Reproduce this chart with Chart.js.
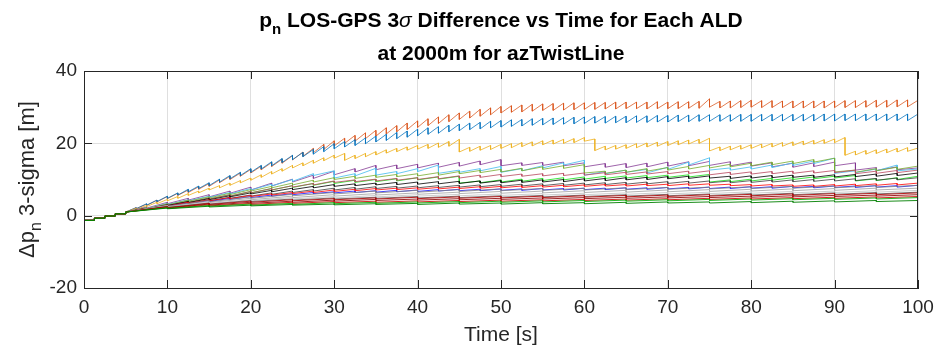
<!DOCTYPE html>
<html>
<head>
<meta charset="utf-8">
<script src="https://cdn.jsdelivr.net/npm/chart.js@4.4.1/dist/chart.umd.min.js"></script>
<style>
html,body{margin:0;padding:0;background:#fff;}
#wrap{width:935px;height:349px;}
</style>
</head>
<body>
<div id="wrap"><canvas id="c" width="935" height="349"></canvas></div>
<script>
// ---------- DATA ----------
// Tooth boundary times [s]; at each time a series ends its rise at "Hi" and restarts at "Lo"
const timeFine = [0,1.25,2.5,3.75,5,6.25,7.5,8.75,10,11.25,12.5,13.75,15,16.25,17.5,18.75,20,21.25,22.5,23.75,25,26.25,27.5,28.75,30,31.25,32.5,33.75,35,36.25,37.5,38.75,40,41.25,42.5,43.75,45,46.25,47.5,48.75,50,51.25,52.5,53.75,55,56.25,57.5,58.75,60,61.25,62.5,63.75,65,66.25,67.5,68.75,70,71.25,72.5,73.75,75,76.25,77.5,78.75,80,81.25,82.5,83.75,85,86.25,87.5,88.75,90,91.25,92.5,93.75,95,96.25,97.5,98.75,100];
const timeMid = [0,1.25,2.5,3.75,5,7.5,10,12.5,15,17.5,20,22.5,25,27.5,30,32.5,35,37.5,40,42.5,45,47.5,50,52.5,55,57.5,60,62.5,65,67.5,70,72.5,75,77.5,80,82.5,85,87.5,90,92.5,95,97.5,100];
const timeLow = [0,1.25,2.5,3.75,5,10,15,20,25,30,35,40,45,50,55,60,65,70,75,80,85,90,95,100];

// common start-up staircase (0-5 s)
const stairHi = [-1.3,-1.3,-0.7,-0.1,0.5];
const stairLo = [-1.3,-0.7,-0.1,0.5,1.0];

const orangeHi = [-1.3,-1.3,-0.7,-0.1,0.5, 2.2,3.2,4.3,5.3, 6.2,7.1,8.0,8.9, 9.9,10.9,11.8,12.8, 13.7,14.7,15.6,16.6, 17.6,18.6,19.7,20.7, 21.4,22.2,22.9,23.6, 24.3,24.9,25.6,26.2, 26.8,27.3,27.9,28.4, 28.9,29.4,29.8,30.2, 30.4,30.6,30.8,30.9, 31.0,31.1,31.2,31.2, 31.3,31.3,31.4,31.4, 31.4,31.4,31.5,31.4, 31.5,31.5,31.6,32.3, 31.6,31.7,31.8,31.9, 31.8,31.8,31.7,31.7, 31.7,31.7,31.7,31.7, 31.8,31.8,31.8,31.9, 31.9,32.0,32.0,31.9];
const orangeLo = [-1.3,-0.7,-0.1,0.5,1.0, 1.9,2.8,3.8,4.7, 5.6,6.4,7.3,8.1, 9.1,10.0,10.9,11.8, 12.7,13.6,14.5,15.4, 16.4,17.4,18.3,19.3, 20.0,20.6,21.3,22.0, 22.6,23.2,23.8,24.4, 24.9,25.5,26.0,26.6, 27.0,27.5,27.9,28.4, 28.6,28.7,28.9,29.1, 29.1,29.2,29.3,29.4, 29.4,29.5,29.5,29.6, 29.6,29.5,29.6,29.6, 29.6,29.7,29.7,30.0, 29.8,29.8,29.9,30.0, 29.9,29.9,29.9,29.8, 29.8,29.8,29.8,29.9, 29.9,29.9,30.0,30.0, 30.0,30.1,30.1,31.9];

const blueHi = [-1.3,-1.3,-0.7,-0.1,0.5, 2.2,3.3,4.3,5.4, 6.3,7.3,8.2,9.1, 10.1,11.1,12.0,13.0, 13.9,14.9,15.8,16.7, 17.5,18.3,19.1,19.9, 20.5,21.0,21.5,22.0, 22.5,23.0,23.4,23.9, 24.3,24.6,25.0,25.3, 25.6,25.8,26.1,26.3, 26.5,26.6,26.8,26.9, 27.0,27.1,27.2,27.3, 27.4,27.4,27.5,27.5, 27.6,27.6,27.7,27.7, 27.8,27.8,27.9,27.9, 27.9,27.9,28.0,28.0, 28.0,28.0,28.0,28.0, 28.0,28.0,28.1,28.1, 28.1,28.1,28.1,28.1, 28.1,28.1,28.1,28.1];
const blueLo = [-1.3,-0.7,-0.1,0.5,1.0, 1.9,2.9,3.9,4.8, 5.7,6.6,7.5,8.3, 9.3,10.2,11.1,12.0, 12.9,13.8,14.7,15.5, 16.3,17.0,17.7,18.5, 19.0,19.4,19.9,20.4, 20.8,21.3,21.7,22.1, 22.5,22.8,23.2,23.5, 23.8,24.0,24.3,24.5, 24.7,24.8,25.0,25.1, 25.2,25.3,25.4,25.5, 25.6,25.6,25.7,25.7, 25.8,25.8,25.9,25.9, 26.0,26.0,26.1,26.1, 26.1,26.1,26.1,26.1, 26.2,26.2,26.2,26.2, 26.2,26.2,26.2,26.2, 26.3,26.3,26.3,26.3, 26.3,26.3,26.3,28.1];

const yellowHi = [-1.3,-1.3,-0.7,-0.1,0.5, 2.0,2.8,3.7,4.5, 5.3,6.1,6.8,7.6, 8.3,9.0,9.7,10.4, 11.3,12.2,13.0,13.9, 14.6,15.3,16.0,16.7, 17.2,16.7,17.2,17.7, 18.2,18.6,19.0,19.4, 19.7,20.1,20.5,21.1, 18.9,19.2,19.4,19.7, 19.9,20.2,20.4,20.7, 20.9,21.1,21.3,21.6, 21.2,19.2,19.4,19.6, 19.9,20.1,20.3,20.5, 20.7,20.9,21.1,21.4, 19.0,19.2,19.4,19.6, 19.8,20.0,20.2,20.4, 20.6,20.8,21.0,21.2, 21.6,17.8,18.0,18.2, 18.4,18.6,18.8,18.7];
const yellowLo = [-1.3,-0.7,-0.1,0.5,1.0, 1.7,2.5,3.3,4.1, 4.8,5.6,6.3,7.1, 7.7,8.4,9.1,9.8, 10.6,11.5,12.3,13.2, 13.8,14.5,15.2,15.9, 15.3,15.8,16.3,16.8, 17.3,17.7,18.1,18.4, 18.6,18.9,19.2,17.6, 17.8,18.1,18.3,18.6, 18.8,19.1,19.3,19.6, 19.8,20.0,20.2,20.6, 18.0,18.2,18.4,18.6, 18.8,19.0,19.2,19.4, 19.6,19.8,20.0,17.9, 18.0,18.2,18.4,18.6, 18.8,19.0,19.2,19.4, 19.6,19.8,20.0,20.2, 16.7,16.8,17.0,17.2, 17.4,17.6,17.8,18.7];

// mid series (2.5 s teeth), values after the staircase
const purpleHi = [2.4,3.7, 4.8,5.8,6.8,7.9, 9.0,10.1,11.2,12.3, 13.0,13.9,14.0,14.2, 14.5,14.7,15.1,15.5, 14.6,14.7,14.8,14.6, 14.4,14.4,14.5,14.8, 14.9,15.0,14.9,14.8, 14.6,14.5,14.6,14.8, 14.6,13.3,13.5,13.2];
const purpleLo = [2.1,3.3, 4.3,5.2,6.2,7.1, 8.2,9.3,10.3,11.3, 12.1,12.7,13.0,13.2, 13.4,13.7,14.1,13.8, 13.9,13.9,13.8,13.5, 13.4,13.3,13.5,13.7, 13.8,13.9,13.8,13.7, 13.5,13.4,13.6,13.8, 12.6,12.5,12.7,13.2];
const lightBlueHi = [2.2,3.4, 4.4,5.4,6.4,7.5, 8.7,10.0,11.6,12.4, 11.6,13.1,12.2,13.0, 14.0,12.6,13.0,13.6, 13.0,13.8,14.6,15.3, 12.2,12.6,12.8,13.4, 14.8,16.0,13.2,13.5, 14.0,14.6,15.1,15.9, 12.4,12.9,14.0,12.9];
const lightBlueLo = [1.9,3.1, 4.1,5.1,6.0,7.1, 8.2,9.5,11.1,10.4, 11.0,11.2,11.6,12.2, 11.7,12.0,12.4,12.0, 12.4,13.2,14.0,11.2, 11.6,12.0,11.8,12.8, 14.0,12.6,12.6,12.9, 13.3,13.9,14.4,11.7, 11.9,12.4,12.4,12.9];
const oliveHi = [2.2,3.3, 4.3,5.2,6.2,7.2, 8.1,9.0,9.8,10.5, 10.9,11.2,11.4,11.6, 11.9,12.2,12.5,12.8, 13.1,13.5,13.8,14.1, 12.3,12.6,13.0,13.3, 13.6,13.9,14.2,14.5, 14.8,15.1,15.5,15.9, 12.6,13.0,13.4,13.7];
const oliveLo = [1.9,3.0, 4.0,4.9,5.8,6.8, 7.7,8.5,9.3,10.0, 10.3,10.6,10.8,11.0, 11.2,11.6,11.9,12.1, 12.4,12.8,13.1,11.8, 11.7,12.0,12.3,12.6, 12.9,13.2,13.5,13.8, 14.1,14.4,14.8,12.1, 12.0,12.4,12.8,13.7];
const limeHi = [2.1,3.1, 4.0,4.9,5.8,6.7, 7.5,8.3,8.9,9.5, 9.8,10.0,10.2,10.5, 10.7,10.9,9.6,9.9, 10.1,10.3,10.5,10.7, 10.9,11.0,11.1,11.2, 11.3,11.4,9.9,10.1, 10.3,10.5,10.7,10.9, 11.1,10.2,10.5,10.9];
const limeLo = [1.8,2.8, 3.7,4.6,5.4,6.3, 7.1,7.8,8.4,8.9, 9.2,9.4,9.6,9.9, 10.1,9.0,9.1,9.3, 9.5,9.7,9.9,10.1, 10.3,10.4,10.5,10.6, 10.7,9.3,9.4,9.6, 9.8,10.0,10.2,10.4, 9.6,9.7,10.0,10.9];
const pinkHi = [2.1,3.1, 4.0,4.9,5.8,6.7, 7.5,8.3,8.9,9.6, 9.9,10.1,10.3,10.5, 10.8,11.0,11.2,11.4, 11.5,11.6,11.7,11.8, 11.9,12.0,12.1,12.2, 12.3,12.4,12.0,12.1, 12.2,12.3,12.4,12.5, 12.6,12.3,12.5,12.6];
const pinkLo = [1.8,2.8, 3.7,4.6,5.4,6.3, 7.1,7.9,8.5,9.2, 9.4,9.6,9.8,10.0, 10.2,10.4,10.6,10.8, 10.9,11.0,11.1,11.2, 11.3,11.4,11.5,11.6, 11.7,11.3,11.4,11.5, 11.6,11.7,11.8,11.9, 11.6,11.7,11.9,12.6];
const black1Hi = [2.0,3.0, 3.9,4.7,5.5,6.3, 7.0,7.6,8.1,8.6, 8.8,9.0,9.2,9.3, 9.4,9.5,9.6,9.7, 9.8,9.9,10.0,10.2, 10.3,10.5,10.6,10.8, 10.9,11.0,10.9,11.0, 11.1,11.2,11.2,11.3, 11.4,11.5,11.7,11.8];
const black1Lo = [1.8,2.8, 3.6,4.4,5.2,6.0, 6.6,7.2,7.7,8.1, 8.3,8.5,8.6,8.7, 8.8,8.9,9.0,9.1, 9.2,9.3,9.4,9.6, 9.7,9.9,10.0,10.2, 10.3,10.4,10.3,10.4, 10.5,10.6,10.6,10.7, 10.8,10.9,11.1,11.8];
const black2Hi = [2.0,2.9, 3.7,4.4,5.1,5.7, 6.3,6.8,7.2,7.6, 7.8,8.0,8.1,8.2, 8.3,8.4,8.5,8.6, 8.7,8.8,8.9,9.0, 9.1,9.2,9.3,9.4, 9.5,9.6,9.6,9.7, 9.8,9.9,10.0,10.1, 10.2,10.3,10.4,10.5];
const black2Lo = [1.7,2.7, 3.4,4.1,4.8,5.4, 5.9,6.4,6.8,7.1, 7.3,7.5,7.6,7.7, 7.8,7.9,8.0,8.1, 8.2,8.3,8.4,8.5, 8.6,8.7,8.8,8.9, 9.0,9.1,9.1,9.2, 9.3,9.4,9.5,9.6, 9.7,9.8,9.9,10.5];
const pureBlueHi = [1.9,2.8, 3.5,4.2,4.8,5.3, 5.7,6.1,6.4,6.6, 6.8,6.9,7.0,7.1, 7.2,7.3,7.3,7.4, 7.4,7.5,7.5,7.6, 7.6,7.7,7.7,7.8, 7.8,7.9,7.9,8.0, 8.0,8.1,8.1,8.2, 8.2,8.3,8.3,8.4];
const pureBlueLo = [1.7,2.6, 3.3,3.9,4.5,5.0, 5.4,5.8,6.1,6.3, 6.4,6.5,6.6,6.7, 6.8,6.9,6.9,7.0, 7.0,7.1,7.1,7.2, 7.2,7.3,7.3,7.4, 7.4,7.5,7.5,7.6, 7.6,7.7,7.7,7.8, 7.8,7.9,7.9,8.4];
const redHi = [2.0,2.9, 3.7,4.4,5.0,5.6, 6.0,6.4,6.8,7.1, 7.3,7.5,7.6,7.7, 7.8,7.9,8.0,8.1, 8.2,8.3,8.4,8.5, 8.6,8.6,8.7,8.7, 8.8,8.8,8.7,8.6, 8.6,8.5,8.5,8.6, 8.7,8.8,8.9,9.0];
const redLo = [1.7,2.6, 3.4,4.1,4.7,5.3, 5.7,6.1,6.4,6.7, 6.9,7.1,7.2,7.3, 7.4,7.5,7.6,7.7, 7.8,7.9,8.0,8.1, 8.2,8.2,8.3,8.3, 8.4,8.4,8.3,8.2, 8.2,8.1,8.1,8.2, 8.3,8.4,8.5,9.0];

// low cluster (5 s teeth), values after the staircase
const grey1Hi = [2.9,4.2,5.2,5.9,6.4,6.8,7.0,7.2,7.4,7.5,7.6,7.7,7.8,7.9,8.0,8.1,8.2,8.3,8.4];
const grey1Lo = [2.6,3.8,4.8,5.5,6.0,6.3,6.5,6.7,6.9,7.0,7.1,7.2,7.3,7.4,7.5,7.6,7.7,7.8,8.4];
const grey2Hi = [2.8,3.9,4.8,5.4,5.8,6.1,6.3,6.5,6.7,6.8,6.9,7.0,7.1,7.2,7.3,7.4,7.5,7.6,7.6];
const grey2Lo = [2.5,3.6,4.4,5.0,5.4,5.7,5.9,6.1,6.2,6.3,6.4,6.5,6.6,6.7,6.8,6.9,7.0,7.1,7.6];
const grey3Hi = [2.7,3.7,4.4,5.0,5.3,5.6,5.8,5.9,6.0,6.1,6.2,6.3,6.4,6.5,6.6,6.7,6.8,6.9,7.0];
const grey3Lo = [2.4,3.4,4.1,4.6,4.9,5.2,5.4,5.5,5.6,5.7,5.8,5.9,6.0,6.1,6.2,6.3,6.4,6.5,7.0];
const grey4Hi = [2.6,3.5,4.2,4.6,4.9,5.1,5.3,5.4,5.5,5.6,5.7,5.8,5.9,6.0,6.1,6.2,6.3,6.4,6.5];
const grey4Lo = [2.3,3.2,3.9,4.3,4.6,4.8,4.9,5.0,5.1,5.2,5.3,5.4,5.5,5.6,5.7,5.8,5.9,6.0,6.5];
const dred1Hi = [2.5,3.4,4.0,4.4,4.7,4.9,5.1,5.2,5.3,5.4,5.5,5.6,5.7,5.8,5.9,6.0,6.1,6.2,6.3];
const dred1Lo = [2.2,3.1,3.7,4.1,4.4,4.6,4.7,4.8,4.9,5.0,5.1,5.2,5.3,5.4,5.5,5.6,5.7,5.8,6.3];
const dred2Hi = [2.4,3.2,3.7,4.0,4.3,4.5,4.6,4.7,4.8,4.9,5.0,5.1,5.2,5.3,5.4,5.5,5.6,5.7,5.8];
const dred2Lo = [2.1,2.9,3.4,3.7,4.0,4.2,4.3,4.4,4.5,4.6,4.7,4.8,4.9,5.0,5.1,5.2,5.3,5.4,5.8];
const dred3Hi = [2.3,3.0,3.4,3.7,3.9,4.0,4.1,4.2,4.3,4.4,4.5,4.6,4.7,4.8,4.9,5.0,5.1,5.2,5.3];
const dred3Lo = [2.0,2.7,3.1,3.4,3.6,3.7,3.8,3.9,4.0,4.1,4.2,4.3,4.4,4.5,4.6,4.7,4.8,4.9,5.3];
const dgreen1Hi = [2.1,2.6,2.9,3.1,3.2,3.3,3.4,3.5,3.5,3.6,3.6,3.7,3.8,3.8,3.9,4.0,4.1,4.2,4.2];
const dgreen1Lo = [1.9,2.4,2.7,2.9,3.0,3.1,3.1,3.2,3.2,3.3,3.3,3.4,3.5,3.5,3.6,3.7,3.8,3.9,4.2];
const dgreen2Hi = [2.2,2.8,3.2,3.4,3.6,3.7,3.8,3.9,4.0,4.1,4.2,4.3,4.4,4.5,4.6,4.7,4.8,4.9,5.0];
const dgreen2Lo = [2.0,2.6,2.9,3.1,3.3,3.4,3.5,3.6,3.7,3.8,3.9,4.0,4.1,4.2,4.3,4.4,4.5,4.6,5.0];

const xTicks = [0,10,20,30,40,50,60,70,80,90,100];
const yTicks = [-20,0,20,40];

// ---------- build line points ----------
function build(times, hi, lo) {
  const pts = [{x: times[0], y: lo[0]}];
  for (let i = 1; i < times.length; i++) {
    pts.push({x: times[i], y: hi[i]});
    if (lo[i] !== hi[i]) pts.push({x: times[i], y: lo[i]});
  }
  return pts;
}
const withStair = (a, b) => [stairHi.concat(a), stairLo.concat(b)];

const series = [
  ['rgba(0,128,0,0.9)', timeLow, ...withStair(dgreen1Hi, dgreen1Lo)],
  ['rgba(0,170,0,0.85)', timeLow, ...withStair(dgreen2Hi, dgreen2Lo)],
  ['rgba(204,0,0,0.85)', timeLow, ...withStair(dred3Hi, dred3Lo)],
  ['rgba(139,0,0,0.85)', timeLow, ...withStair(dred2Hi, dred2Lo)],
  ['rgba(176,0,0,0.85)', timeLow, ...withStair(dred1Hi, dred1Lo)],
  ['rgba(90,90,90,0.8)', timeLow, ...withStair(grey4Hi, grey4Lo)],
  ['rgba(200,200,200,0.9)', timeLow, ...withStair(grey3Hi, grey3Lo)],
  ['rgba(166,166,166,0.85)', timeLow, ...withStair(grey2Hi, grey2Lo)],
  ['rgba(128,128,128,0.8)', timeLow, ...withStair(grey1Hi, grey1Lo)],
  ['rgba(255,0,0,0.8)', timeMid, ...withStair(redHi, redLo)],
  ['rgba(0,0,255,0.75)', timeMid, ...withStair(pureBlueHi, pureBlueLo)],
  ['rgba(50,50,50,0.75)', timeMid, ...withStair(black2Hi, black2Lo)],
  ['rgba(0,0,0,0.8)', timeMid, ...withStair(black1Hi, black1Lo)],
  ['rgba(184,71,94,0.8)', timeMid, ...withStair(pinkHi, pinkLo)],
  ['rgba(34,224,34,0.85)', timeMid, ...withStair(limeHi, limeLo)],
  ['rgba(119,172,48,0.8)', timeMid, ...withStair(oliveHi, oliveLo)],
  ['rgba(77,190,238,0.85)', timeMid, ...withStair(lightBlueHi, lightBlueLo)],
  ['rgba(126,47,142,0.75)', timeMid, ...withStair(purpleHi, purpleLo)],
  ['rgba(237,177,32,0.8)', timeFine, yellowHi, yellowLo],
  ['rgba(0,114,189,0.75)', timeFine, blueHi, blueLo],
  ['rgba(217,83,25,0.75)', timeFine, orangeHi, orangeLo]
];

const datasets = series.map(s => ({
  data: build(s[1], s[2], s[3]),
  borderColor: s[0],
  borderWidth: 1,
  pointRadius: 0,
  tension: 0,
  fill: false
}));

// ---------- decorations ----------
const FONT = '"Liberation Sans", Arial, Helvetica, sans-serif';
const AXC = '#262626';
function fontFor(s, size) {
  const sz = s.sub ? Math.round(size * 0.72) : size;
  return (s.it ? 'italic ' : '') + (s.b ? 'bold ' : '') + sz + 'px ' + FONT;
}
function drawRich(ctx, segs, x, y, size) {
  let total = 0;
  segs.forEach(s => { ctx.font = fontFor(s, size); s.w = ctx.measureText(s.t).width; total += s.w; });
  let cx = x - total / 2;
  ctx.textAlign = 'left';
  ctx.textBaseline = 'alphabetic';
  segs.forEach(s => {
    ctx.font = fontFor(s, size);
    ctx.fillText(s.t, cx, y + (s.sub ? size * 0.32 : 0));
    cx += s.w;
  });
}

const deco = {
  id: 'deco',
  afterDraw(chart) {
    const ctx = chart.ctx;
    const a = chart.chartArea;
    const xs = chart.scales.x, ys = chart.scales.y;
    ctx.save();
    ctx.strokeStyle = AXC;
    ctx.lineWidth = 1;
    // box
    ctx.strokeRect(Math.round(a.left) + 0.5, Math.round(a.top) + 0.5, Math.round(a.right - a.left) - 1, Math.round(a.bottom - a.top));
    // inner ticks
    const tl = 8;
    ctx.beginPath();
    xTicks.forEach(v => {
      const px = Math.round(xs.getPixelForValue(v)) + 0.5;
      ctx.moveTo(px, a.bottom); ctx.lineTo(px, a.bottom - tl);
      ctx.moveTo(px, a.top); ctx.lineTo(px, a.top + tl);
    });
    yTicks.forEach(v => {
      const py = Math.round(ys.getPixelForValue(v)) + 0.5;
      ctx.moveTo(a.left, py); ctx.lineTo(a.left + tl, py);
      ctx.moveTo(a.right, py); ctx.lineTo(a.right - tl, py);
    });
    ctx.stroke();

    ctx.fillStyle = '#000';
    const cx = (a.left + a.right) / 2;
    drawRich(ctx, [
      {t: 'p', b: 1}, {t: 'n', b: 1, sub: 1}, {t: ' LOS-GPS 3', b: 1},
      {t: 'σ', it: 1}, {t: ' Difference vs Time for Each ALD', b: 1}
    ], cx, 27, 21);
    drawRich(ctx, [{t: 'at 2000m for azTwistLine', b: 1}], cx, 60, 21);

    ctx.fillStyle = AXC;
    drawRich(ctx, [{t: 'Time [s]'}], cx, 341, 21);

    ctx.translate(34, (a.top + a.bottom) / 2);
    ctx.rotate(-Math.PI / 2);
    drawRich(ctx, [{t: 'Δp'}, {t: 'n', sub: 1}, {t: ' 3-sigma [m]'}], 0, 0, 22);
    ctx.restore();
  }
};

new Chart(document.getElementById('c'), {
  type: 'line',
  data: { datasets },
  plugins: [deco],
  options: {
    responsive: false,
    animation: false,
    devicePixelRatio: 1,
    layout: { padding: { left: 0, right: 17, top: 71, bottom: 0 } },
    plugins: { legend: { display: false }, tooltip: { enabled: false }, title: { display: false } },
    elements: { line: { borderJoinStyle: 'miter' } },
    scales: {
      x: {
        type: 'linear', min: 0, max: 100,
        afterFit: s => { s.height = 61; s.paddingLeft = 0; s.paddingRight = 0; },
        afterBuildTicks: s => { s.ticks = xTicks.map(v => ({value: v})); },
        grid: { color: 'rgba(38,38,38,0.15)', drawTicks: false },
        border: { color: AXC, width: 1 },
        ticks: { color: AXC, padding: 8, maxRotation: 0, font: { family: FONT, size: 19 } }
      },
      y: {
        type: 'linear', min: -20, max: 40,
        afterFit: s => { s.width = 84; s.paddingTop = 0; s.paddingBottom = 0; },
        afterBuildTicks: s => { s.ticks = yTicks.map(v => ({value: v})); },
        grid: { color: 'rgba(38,38,38,0.15)', drawTicks: false },
        border: { color: AXC, width: 1 },
        ticks: { color: AXC, padding: 7, font: { family: FONT, size: 19 } }
      }
    }
  }
});
</script>
</body>
</html>
